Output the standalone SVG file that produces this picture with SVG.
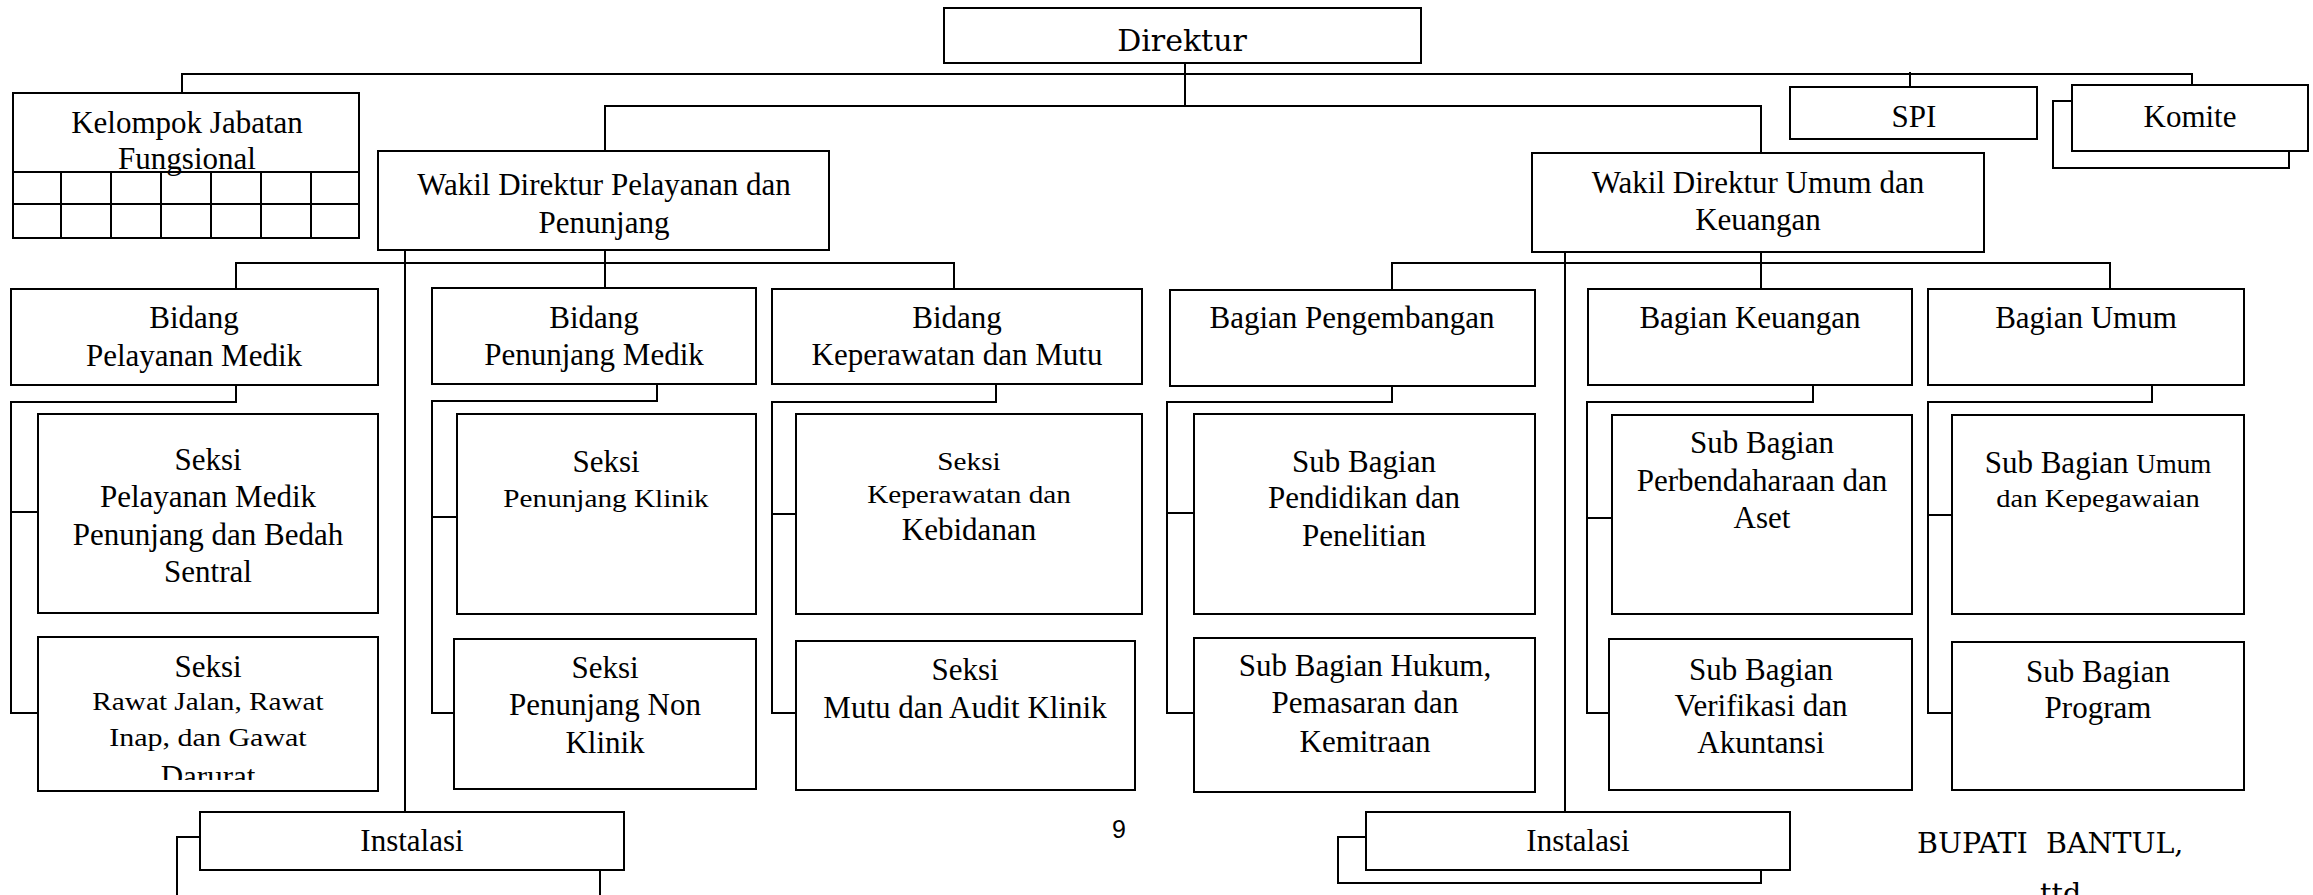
<svg xmlns="http://www.w3.org/2000/svg" width="2313" height="895" viewBox="0 0 2313 895">
<defs>
<style>
.b{fill:#fff;stroke:#000;stroke-width:2}
.c{fill:none;stroke:#000;stroke-width:2}
.t{font-family:"Liberation Serif","Times New Roman",serif;font-size:31px;fill:#000;text-anchor:middle}
.s{font-family:"Liberation Serif","Times New Roman",serif;font-size:25px;fill:#000;text-anchor:middle}
.d{font-family:"DejaVu Serif",serif;fill:#000}
</style>
<clipPath id="clipRawat"><rect x="38" y="637" width="340" height="143"/></clipPath>
</defs>
<rect width="2313" height="895" fill="#fff"/>

<g id="connectors">
<path class="c" d="M182,93 V74 H2192 V85"/>
<path class="c" d="M1910,72 V87"/>
<path class="c" d="M1185,63 V106"/>
<path class="c" d="M605,151 V106 H1761 V153"/>
<path class="c" d="M605,250 V288"/>
<path class="c" d="M236,289 V263 H954 V289"/>
<path class="c" d="M405,250 V812"/>
<path class="c" d="M1761,252 V289"/>
<path class="c" d="M1392,290 V263 H2110 V289"/>
<path class="c" d="M1565,252 V812"/>
<path class="c" d="M236,385 V402 H11 V713 H38 M11,512 H38"/>
<path class="c" d="M657,384 V401 H432 V713 H454 M432,517 H457"/>
<path class="c" d="M996,384 V402 H772 V713 H796 M772,514 H796"/>
<path class="c" d="M1392,386 V402 H1167 V713 H1194 M1167,513 H1194"/>
<path class="c" d="M1813,385 V402 H1587 V713 H1609 M1587,518 H1612"/>
<path class="c" d="M2152,385 V402 H1928 V713 H1952 M1928,515 H1952"/>
</g>

<g id="direktur">
<rect class="b" x="944" y="8" width="477" height="55"/>
<text class="d" x="1182" y="51" font-size="30" text-anchor="middle">Direktur</text>
</g>

<g id="kelompok">
<rect class="b" x="13" y="93" width="346" height="145"/>
<path class="c" d="M13,172 H359 M13,204 H359 M61,172 V238 M111,172 V238 M161,172 V238 M211,172 V238 M261,172 V238 M311,172 V238"/>
<text class="t" x="187" y="133">Kelompok Jabatan</text>
<text class="t" x="187" y="169">Fungsional</text>
</g>

<g id="spi">
<rect class="b" x="1790" y="87" width="247" height="52"/>
<text class="t" x="1914" y="127">SPI</text>
</g>

<g id="komite">
<rect class="b" x="2053" y="101" width="236" height="67"/>
<rect class="b" x="2072" y="85" width="236" height="66"/>
<text class="t" x="2190" y="127">Komite</text>
</g>

<g id="wadir-pelayanan">
<rect class="b" x="378" y="151" width="451" height="99"/>
<text class="t" x="604" y="195">Wakil Direktur Pelayanan dan</text>
<text class="t" x="604" y="233">Penunjang</text>
</g>

<g id="wadir-umum">
<rect class="b" x="1532" y="153" width="452" height="99"/>
<text class="t" x="1758" y="193">Wakil Direktur Umum dan</text>
<text class="t" x="1758" y="230">Keuangan</text>
</g>

<g id="bidang-pelayanan-medik">
<rect class="b" x="11" y="289" width="367" height="96"/>
<text class="t" x="194" y="328">Bidang</text>
<text class="t" x="194" y="366">Pelayanan Medik</text>
</g>

<g id="bidang-penunjang-medik">
<rect class="b" x="432" y="288" width="324" height="96"/>
<text class="t" x="594" y="328">Bidang</text>
<text class="t" x="594" y="365">Penunjang Medik</text>
</g>

<g id="bidang-keperawatan">
<rect class="b" x="772" y="289" width="370" height="95"/>
<text class="t" x="957" y="328">Bidang</text>
<text class="t" x="957" y="365">Keperawatan dan Mutu</text>
</g>

<g id="bagian-pengembangan">
<rect class="b" x="1170" y="290" width="365" height="96"/>
<text class="t" x="1352" y="328">Bagian Pengembangan</text>
</g>

<g id="bagian-keuangan">
<rect class="b" x="1588" y="289" width="324" height="96"/>
<text class="t" x="1750" y="328">Bagian Keuangan</text>
</g>

<g id="bagian-umum">
<rect class="b" x="1928" y="289" width="316" height="96"/>
<text class="t" x="2086" y="328">Bagian Umum</text>
</g>

<g id="seksi-pelayanan-medik">
<rect class="b" x="38" y="414" width="340" height="199"/>
<text class="t" x="208" y="470">Seksi</text>
<text class="t" x="208" y="507">Pelayanan Medik</text>
<text class="t" x="208" y="545">Penunjang dan Bedah</text>
<text class="t" x="208" y="582">Sentral</text>
</g>

<g id="seksi-penunjang-klinik">
<rect class="b" x="457" y="414" width="299" height="200"/>
<text class="t" x="606" y="472">Seksi</text>
<text class="s" transform="translate(606,507) scale(1.17,1)">Penunjang Klinik</text>
</g>

<g id="seksi-keperawatan">
<rect class="b" x="796" y="414" width="346" height="200"/>
<text class="s" transform="translate(969,470) scale(1.17,1)">Seksi</text>
<text class="s" transform="translate(969,503) scale(1.17,1)">Keperawatan dan</text>
<text class="t" x="969" y="540">Kebidanan</text>
</g>

<g id="sub-bagian-pendidikan">
<rect class="b" x="1194" y="414" width="341" height="200"/>
<text class="t" x="1364" y="472">Sub Bagian</text>
<text class="t" x="1364" y="508">Pendidikan dan</text>
<text class="t" x="1364" y="546">Penelitian</text>
</g>

<g id="sub-bagian-perbendaharaan">
<rect class="b" x="1612" y="415" width="300" height="199"/>
<text class="t" x="1762" y="453">Sub Bagian</text>
<text class="t" x="1762" y="491">Perbendaharaan dan</text>
<text class="t" x="1762" y="528">Aset</text>
</g>

<g id="sub-bagian-umum">
<rect class="b" x="1952" y="415" width="292" height="199"/>
<text class="t" x="2098" y="473">Sub Bagian <tspan font-size="27">Umum</tspan></text>
<text class="s" transform="translate(2098,507) scale(1.14,1)">dan Kepegawaian</text>
</g>

<g id="seksi-rawat">
<rect class="b" x="38" y="637" width="340" height="154"/>
<text class="t" x="208" y="677">Seksi</text>
<text class="s" transform="translate(208,710) scale(1.17,1)">Rawat Jalan, Rawat</text>
<text class="s" transform="translate(208,746) scale(1.2,1)">Inap, dan Gawat</text>
<text class="t" x="208" y="787" clip-path="url(#clipRawat)">Darurat</text>
</g>

<g id="seksi-penunjang-non-klinik">
<rect class="b" x="454" y="639" width="302" height="150"/>
<text class="t" x="605" y="678">Seksi</text>
<text class="t" x="605" y="715">Penunjang Non</text>
<text class="t" x="605" y="753">Klinik</text>
</g>

<g id="seksi-mutu">
<rect class="b" x="796" y="641" width="339" height="149"/>
<text class="t" x="965" y="680">Seksi</text>
<text class="t" x="965" y="718">Mutu dan Audit Klinik</text>
</g>

<g id="sub-bagian-hukum">
<rect class="b" x="1194" y="638" width="341" height="154"/>
<text class="t" x="1365" y="676">Sub Bagian Hukum,</text>
<text class="t" x="1365" y="713">Pemasaran dan</text>
<text class="t" x="1365" y="752">Kemitraan</text>
</g>

<g id="sub-bagian-verifikasi">
<rect class="b" x="1609" y="639" width="303" height="151"/>
<text class="t" x="1761" y="680">Sub Bagian</text>
<text class="t" x="1761" y="716">Verifikasi dan</text>
<text class="t" x="1761" y="753">Akuntansi</text>
</g>

<g id="sub-bagian-program">
<rect class="b" x="1952" y="642" width="292" height="148"/>
<text class="t" x="2098" y="682">Sub Bagian</text>
<text class="t" x="2098" y="718">Program</text>
</g>

<g id="instalasi-pelayanan">
<rect class="b" x="177" y="837" width="423" height="100"/>
<rect class="b" x="200" y="812" width="424" height="58"/>
<text class="t" x="412" y="851">Instalasi</text>
</g>

<g id="instalasi-umum">
<rect class="b" x="1338" y="837" width="423" height="46"/>
<rect class="b" x="1366" y="812" width="424" height="58"/>
<text class="t" x="1578" y="851">Instalasi</text>
</g>

<text x="1119" y="838" font-family="'Liberation Sans',sans-serif" font-size="25" text-anchor="middle" fill="#000">9</text>
<text class="d" x="1917" y="853" font-size="28.5" xml:space="preserve">BUPATI  BANTUL,</text>
<text class="d" x="2040" y="903" font-size="28.5">ttd</text>
</svg>
